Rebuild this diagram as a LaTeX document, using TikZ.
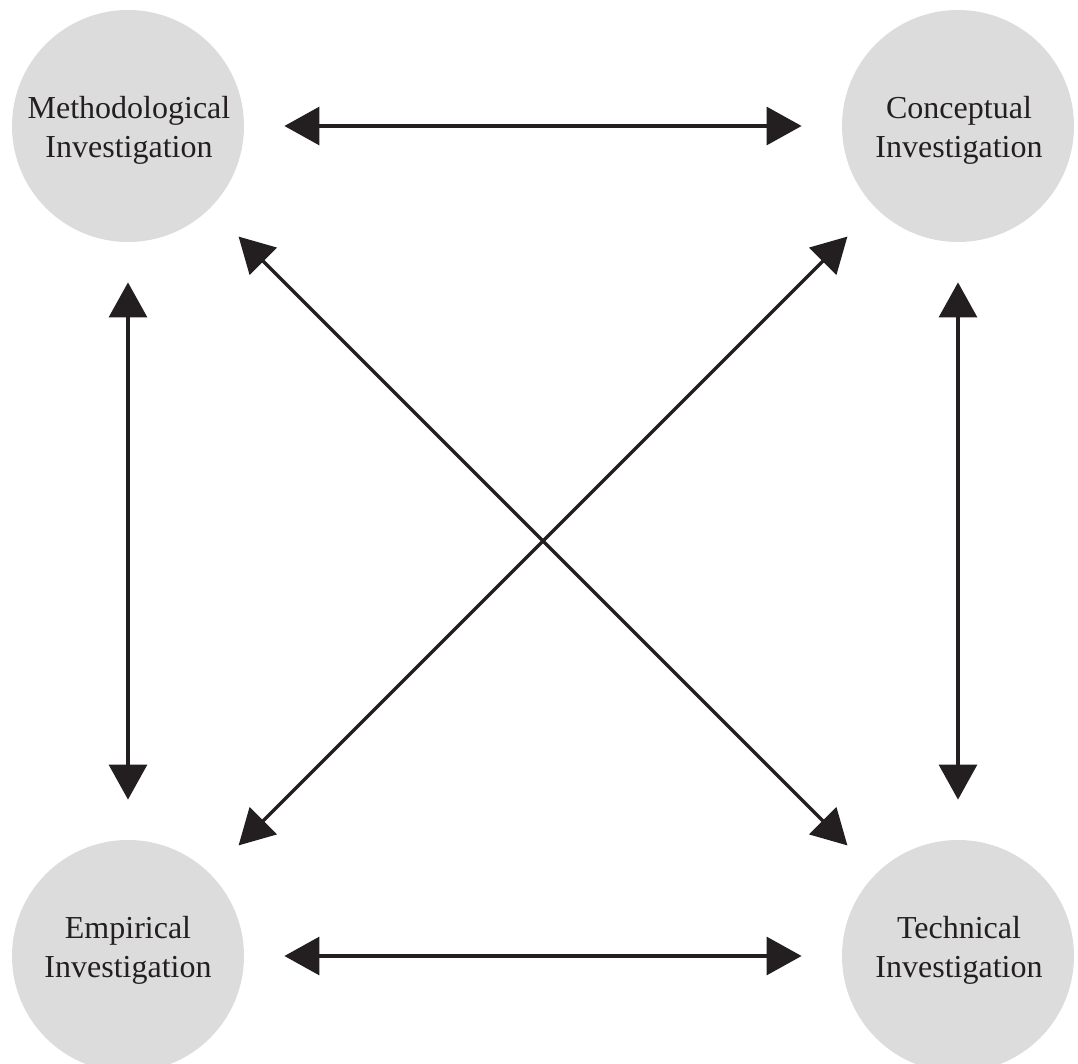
\documentclass[tikz,border=0pt]{standalone}
\usepackage{fontspec}
\setmainfont{Liberation Serif}
\usetikzlibrary{arrows.meta}
\definecolor{disc}{HTML}{DCDCDC}
\definecolor{ink}{HTML}{231F20}
\begin{document}
\begin{tikzpicture}[x=0.5pt,y=-0.5pt,
  disk/.style={circle,fill=disc,inner sep=0pt,minimum size=116pt},
  caption/.style={align=center,text=ink,font=\fontsize{16}{19.5}\selectfont,inner sep=0pt},
  link/.style={draw=ink,line width=1.6pt,
    {Triangle[length=17.5pt,width=19pt]}-{Triangle[length=17.5pt,width=19pt]},
    shorten <=20pt,shorten >=20pt}]
  \useasboundingbox (0,0) rectangle (1078,1064);
  \clip (0,0) rectangle (1078,1064);
  % the four investigations
  \node[disk] (meth) at (128,126) {};
  \node[disk] (conc) at (958,126) {};
  \node[disk] (emp)  at (128,956) {};
  \node[disk] (tech) at (958,956) {};
  \node[caption] (methT) at (129,130) {Methodological\\Investigation};
  \node[caption] (concT) at (959,130) {Conceptual\\Investigation};
  \node[caption] (empT)  at (128,950) {Empirical\\Investigation};
  \node[caption] (techT) at (959,950) {Technical\\Investigation};
  % two-way links between every pair
  \draw[link] (meth) -- (conc);
  \draw[link] (emp) -- (tech);
  \draw[link] (meth) -- (emp);
  \draw[link] (conc) -- (tech);
  \draw[link] (meth) -- (tech);
  \draw[link] (conc) -- (emp);
\end{tikzpicture}
\end{document}
